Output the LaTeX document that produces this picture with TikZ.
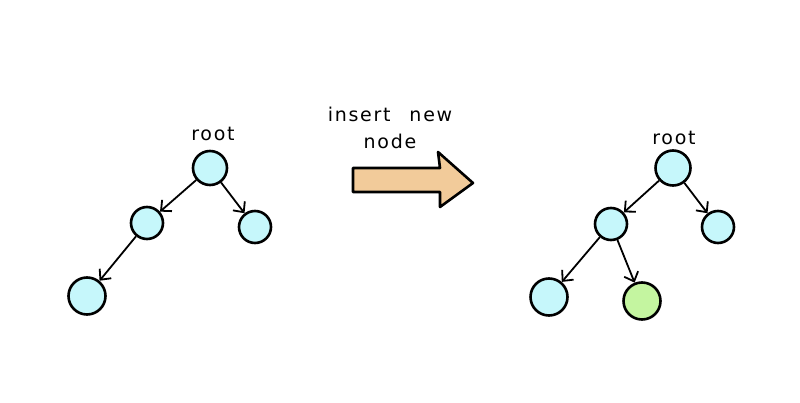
\documentclass[tikz,border=0pt]{standalone}
\usepackage{fontspec}
\usepackage{tikz}
\usetikzlibrary{arrows.meta}
\newfontfamily\handfont[LetterSpace=9]{DejaVu Sans}
\definecolor{nodecyan}{HTML}{C6F7FB}
\definecolor{nodegreen}{HTML}{C4F5A0}
\definecolor{arrowtan}{HTML}{F2CB9A}
\tikzset{>={Straight Barb[length=8pt,width=15pt]}}
\tikzset{
  treenode/.style={circle, draw=black, line width=2.6pt, fill=nodecyan, minimum size=32pt, inner sep=0pt},
  newnode/.style={treenode, fill=nodegreen, minimum size=37pt},
  edge/.style={line width=1.8pt, ->},
  handtext/.style={font=\handfont\fontsize{19pt}{27pt}\selectfont}
}

\begin{document}
\begin{tikzpicture}[x=1pt,y=-1pt]

  \useasboundingbox (0,0) rectangle (800,403);

  % tree before
  \node[handtext] at (213,134) (labelA) {root};
  \node[treenode, minimum size=34pt] at (210,168) (rootA) {};
  \node[treenode] at (147,223) (leftA) {};
  \node[treenode] at (255,227) (rightA) {};
  \node[treenode, minimum size=37pt] at (87,296) (llA) {};

  \draw[edge] (rootA) -- (leftA);
  \draw[edge] (rootA) -- (rightA);
  \draw[edge] (leftA) -- (llA);

  % big arrow
  \draw[line width=2.6pt, fill=arrowtan, line join=round]
    (353,168) -- (440,168) -- (438,152) -- (473,183) -- (440,207) -- (440,192) -- (353,192) -- cycle;
  \node[handtext, align=center] at (390,128) (caption) {insert\quad new\\node};

  % tree after
  \node[handtext] at (674,138) (labelB) {root};
  \node[treenode, minimum size=35pt] at (673,168) (rootB) {};
  \node[treenode] at (611,224) (leftB) {};
  \node[treenode] at (718,227) (rightB) {};
  \node[treenode, minimum size=37pt] at (549,297) (llB) {};
  \node[newnode] at (642,301) (newB) {};

  \draw[edge] (rootB) -- (leftB);
  \draw[edge] (rootB) -- (rightB);
  \draw[edge] (leftB) -- (llB);
  \draw[edge] (leftB) -- (newB);

\end{tikzpicture}
\end{document}
